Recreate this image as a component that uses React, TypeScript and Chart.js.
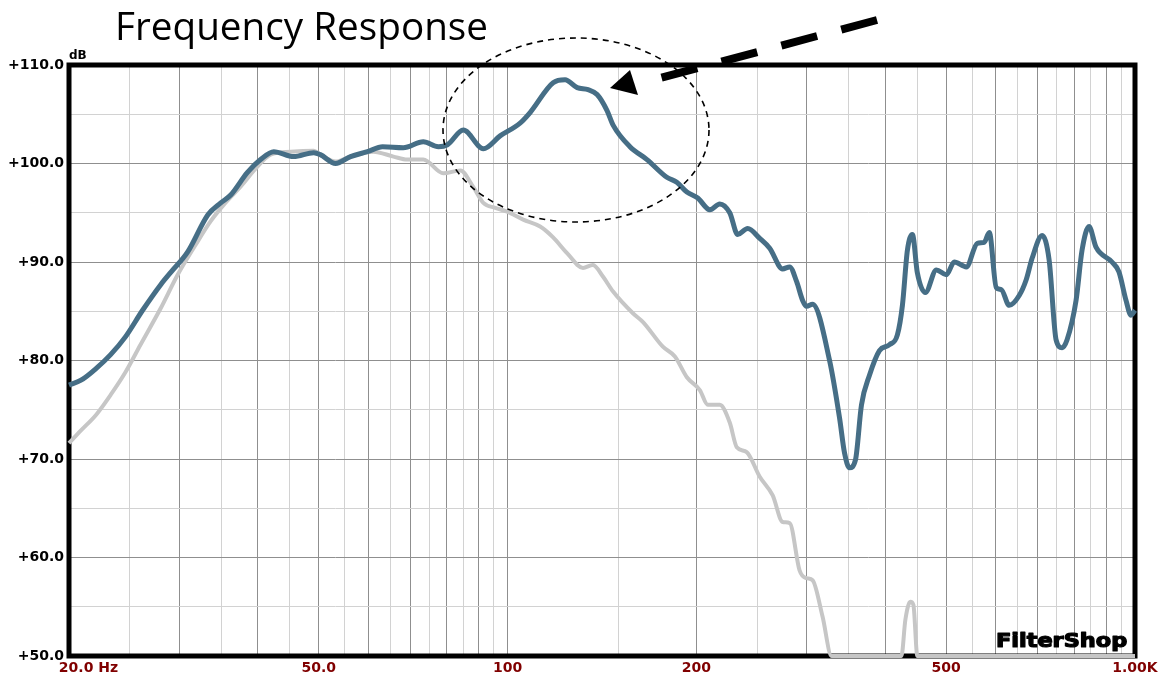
import React, { useEffect, useRef } from 'react';
import { Chart, registerables } from 'chart.js';

Chart.register(...registerables);

// ---- data (frequency in Hz, level in dB) ----
const blueFreq = [
  20.0, 20.9, 22.1, 23.3, 24.6, 26.2, 28.0, 29.1, 30.9, 33.3, 34.9, 36.2, 38.5, 40.4, 42.4, 45.6,
  49.1, 50.3, 53.2, 56.2, 59.8, 63.2, 68.2, 73.4, 77.6, 80.2, 85.0, 91.5, 97.3, 104.7, 108.7,
  118.2, 123.5, 129.1, 134.4, 138.9, 144.0, 147.3, 156.7, 166.8, 179.4, 186.1, 193.1, 201.0,
  210.1, 217.9, 226.0, 232.7, 241.4, 252.3, 261.7, 274.4, 281.6, 288.9, 295.3, 299.6, 306.3,
  326.0, 338.1, 344.4, 350.7, 358.5, 366.5, 377.4, 391.5, 406.1, 418.1, 425.9, 433.8, 441.8,
  449.9, 463.3, 482.4, 500.4, 515.2, 538.4, 560.6, 575.1, 585.8, 601.0, 612.1, 630.3, 653.8,
  670.8, 685.7, 711.2, 729.7, 748.6, 765.3, 779.4, 805.5, 823.4, 844.8, 866.7, 919.0, 942.8,
  967.6, 985.5, 1000,
];
const blueDb = [
  77.5, 78.0, 79.2, 80.6, 82.4, 85.1, 87.7, 89.0, 91.0, 94.8, 96.0, 96.8, 99.1, 100.4, 101.2, 100.7,
  101.1, 100.9, 100.0, 100.7, 101.2, 101.7, 101.6, 102.2, 101.7, 101.9, 103.4, 101.5, 102.8, 104.1, 105.2,
  108.2, 108.5, 107.7, 107.5, 107.0, 105.4, 103.9, 101.7, 100.4, 98.6, 98.1, 97.1, 96.5,
  95.3, 95.9, 95.0, 92.8, 93.4, 92.4, 91.4, 89.3, 89.5, 88.0, 86.1, 85.5, 85.7,
  80.0, 74.2, 70.6, 69.1, 69.9, 75.5, 78.5, 81.0, 81.6, 82.6, 85.6, 91.2, 92.8,
  88.9, 86.9, 89.2, 88.7, 90.0, 89.5, 91.9, 92.0, 93.0, 87.4, 87.2, 85.6, 86.6,
  88.2, 90.4, 92.7, 90.2, 82.1, 81.3, 82.1, 86.1, 91.2, 93.6, 91.5, 90.0, 89.0,
  86.1, 84.6, 85.1,
];
const greyFreq = [
  20.0, 20.9, 22.1, 23.3, 24.6, 26.0, 28.0, 29.8, 31.8, 33.6, 35.5, 37.6, 39.7, 41.9, 45.1,
  49.1, 50.3, 53.2, 56.2, 61.1, 65.8, 69.2, 73.4, 79.0, 84.1, 88.2, 91.5, 95.6, 99.9, 105.9,
  112.7, 118.2, 124.4, 131.9, 136.8, 142.0, 147.3, 158.4, 164.4, 176.8, 184.8, 193.1, 202.5,
  208.5, 217.9, 226.0, 231.9, 240.5, 252.3, 264.6, 274.4, 281.6, 292.0, 299.6, 306.3, 317.7,
  328.4, 424.3, 430.6, 438.5, 443.4, 449.9, 1000,
];
const greyDb = [
  71.6, 72.9, 74.5, 76.5, 78.8, 81.6, 85.3, 88.7, 91.7, 94.1, 96.0, 97.7, 99.5, 100.9, 101.2,
  101.3, 100.9, 100.2, 100.7, 101.2, 100.7, 100.4, 100.4, 99.0, 99.3, 97.6, 96.0, 95.5, 95.1, 94.3,
  93.6, 92.5, 90.9, 89.4, 89.7, 88.5, 87.0, 84.8, 83.9, 81.4, 80.4, 78.3, 77.0,
  75.5, 75.5, 73.7, 71.2, 70.7, 68.2, 66.3, 63.6, 63.5, 58.7, 57.9, 57.7, 54.0,
  50.0, 50.0, 53.7, 55.5, 55.2, 50.0, 50.0,
];

// ---- axes ----
const xTickValues = [
  20, 25, 30, 35, 40, 45, 50, 55, 60, 65, 70, 75, 80, 85, 90, 95, 100,
  150, 200, 250, 300, 350, 400, 450, 500, 550, 600, 650, 700, 750, 800, 850, 900, 950, 1000,
];
const xMajorTicks = [20, 30, 40, 50, 60, 70, 80, 90, 100, 200, 300, 400, 500, 600, 700, 800, 900, 1000];
const xTickLabels: Record<number, string> = {
  20: '        20.0 Hz',
  50: '50.0',
  100: '100',
  200: '200',
  500: '500',
  1000: '1.00K',
};
const yTickValues = [50, 55, 60, 65, 70, 75, 80, 85, 90, 95, 100, 105, 110];
const yMajorTicks = [50, 60, 70, 80, 90, 100, 110];
const yTickLabels: Record<number, string> = {
  50: '+50.0', 60: '+60.0', 70: '+70.0', 80: '+80.0', 90: '+90.0', 100: '+100.0', 110: '+110.0',
};

const titleText = 'Frequency Response';
const unitText = 'dB';
const logoText = 'FilterShop';

const FONT = '"DejaVu Sans", Verdana, sans-serif';
const TITLE_FONT = '"Open Sans", "DejaVu Sans", sans-serif';

const decorPlugin = {
  id: 'decor',
  beforeDatasetsDraw(chart: any) {
    const { ctx, chartArea: a } = chart;
    ctx.save();
    ctx.strokeStyle = '#000';
    ctx.lineWidth = 5;
    ctx.strokeRect(a.left, a.top, a.right - a.left, a.bottom - a.top);
    ctx.restore();
  },
  afterDraw(chart: any) {
    const { ctx } = chart;
    // title (fit to 373px wide)
    ctx.save();
    ctx.fillStyle = '#000';
    ctx.font = `38px ${TITLE_FONT}`;
    ctx.textBaseline = 'alphabetic';
    ctx.textAlign = 'left';
    const w = ctx.measureText(titleText).width || 373;
    ctx.translate(115, 40);
    ctx.scale(373 / w, 1);
    ctx.fillText(titleText, 0, 0);
    ctx.restore();

    // dB unit
    ctx.save();
    ctx.fillStyle = '#000';
    ctx.font = `bold 12px ${FONT}`;
    ctx.textBaseline = 'alphabetic';
    ctx.fillText(unitText, 69, 59);
    ctx.restore();

    // dashed ellipse
    ctx.save();
    ctx.strokeStyle = '#000';
    ctx.lineWidth = 1.6;
    ctx.setLineDash([6, 5]);
    ctx.beginPath();
    ctx.ellipse(576, 130, 133, 92, 0, 0, Math.PI * 2);
    ctx.stroke();
    ctx.restore();

    // dashed arrow
    ctx.save();
    ctx.strokeStyle = '#000';
    ctx.lineWidth = 8;
    ctx.lineCap = 'butt';
    ctx.setLineDash([37, 25]);
    ctx.beginPath();
    ctx.moveTo(877, 20);
    ctx.lineTo(660, 78);
    ctx.stroke();
    ctx.setLineDash([]);
    ctx.fillStyle = '#000';
    ctx.beginPath();
    ctx.moveTo(610, 88);
    ctx.lineTo(630, 70);
    ctx.lineTo(638, 95);
    ctx.closePath();
    ctx.fill();
    ctx.restore();

    // logo (heavy)
    ctx.save();
    ctx.fillStyle = '#000';
    ctx.strokeStyle = '#000';
    ctx.lineWidth = 1.2;
    ctx.lineJoin = 'round';
    ctx.font = `bold 19px ${FONT}`;
    ctx.textBaseline = 'alphabetic';
    ctx.translate(996, 647);
    ctx.scale(1.18, 1);
    ctx.fillText(logoText, 0, 0);
    ctx.strokeText(logoText, 0, 0);
    ctx.restore();
  },
};

export default function App() {
  const canvasRef = useRef<HTMLCanvasElement | null>(null);

  useEffect(() => {
    if (!canvasRef.current) return;
    const blueData = blueFreq.map((f, i) => ({ x: f, y: blueDb[i] }));
    const greyData = greyFreq.map((f, i) => ({ x: f, y: greyDb[i] }));

    const chart = new Chart(canvasRef.current, {
      type: 'line',
      data: {
        datasets: [
          {
            label: 'Response',
            data: blueData,
            borderColor: '#466e86',
            borderWidth: 5,
            pointRadius: 0,
            cubicInterpolationMode: 'monotone',
            fill: false,
            clip: 6,
          },
          {
            label: 'Reference',
            data: greyData,
            borderColor: '#c6c6c6',
            borderWidth: 4,
            pointRadius: 0,
            cubicInterpolationMode: 'monotone',
            fill: false,
            clip: 6,
          },
        ],
      },
      options: {
        responsive: false,
        animation: false,
        devicePixelRatio: 1,
        layout: { padding: { left: 0, right: 31, top: 65, bottom: 0 } },
        plugins: {
          legend: { display: false },
          tooltip: { enabled: false },
          title: { display: false },
        },
        scales: {
          x: {
            type: 'logarithmic',
            min: 20,
            max: 1000,
            afterBuildTicks: (scale: any) => {
              scale.ticks = xTickValues.map((v) => ({ value: v }));
            },
            afterFit: (scale: any) => {
              scale.height = 19;
            },
            border: { display: false },
            grid: {
              drawTicks: false,
              lineWidth: 1,
              color: (c: any) =>
                xMajorTicks.includes(c.tick ? c.tick.value : -1) ? '#8f8f8f' : '#d2d2d2',
            },
            ticks: {
              autoSkip: false,
              maxRotation: 0,
              minRotation: 0,
              padding: 4,
              color: '#800000',
              font: { family: FONT, weight: 'bold', size: 14 },
              callback: (value: any) => xTickLabels[Number(value)] ?? '',
            },
          },
          y: {
            type: 'linear',
            min: 50,
            max: 110,
            afterBuildTicks: (scale: any) => {
              scale.ticks = yTickValues.map((v) => ({ value: v }));
            },
            afterFit: (scale: any) => {
              scale.width = 69;
            },
            border: { display: false },
            grid: {
              drawTicks: false,
              lineWidth: 1,
              color: (c: any) =>
                yMajorTicks.includes(c.tick ? c.tick.value : -1) ? '#8f8f8f' : '#d2d2d2',
            },
            ticks: {
              autoSkip: false,
              padding: 5,
              color: '#000',
              font: { family: FONT, weight: 'bold', size: 14 },
              callback: (value: any) => yTickLabels[Number(value)] ?? '',
            },
          },
        },
      } as any,
      plugins: [decorPlugin as any],
    });

    return () => {
      chart.destroy();
    };
  }, []);

  return (
    <div
      style={{
        position: 'fixed',
        left: 0,
        top: 0,
        width: 1166,
        height: 675,
        background: '#fff',
      }}
    >
      <canvas ref={canvasRef} width={1166} height={675} style={{ display: 'block' }} />
    </div>
  );
}
